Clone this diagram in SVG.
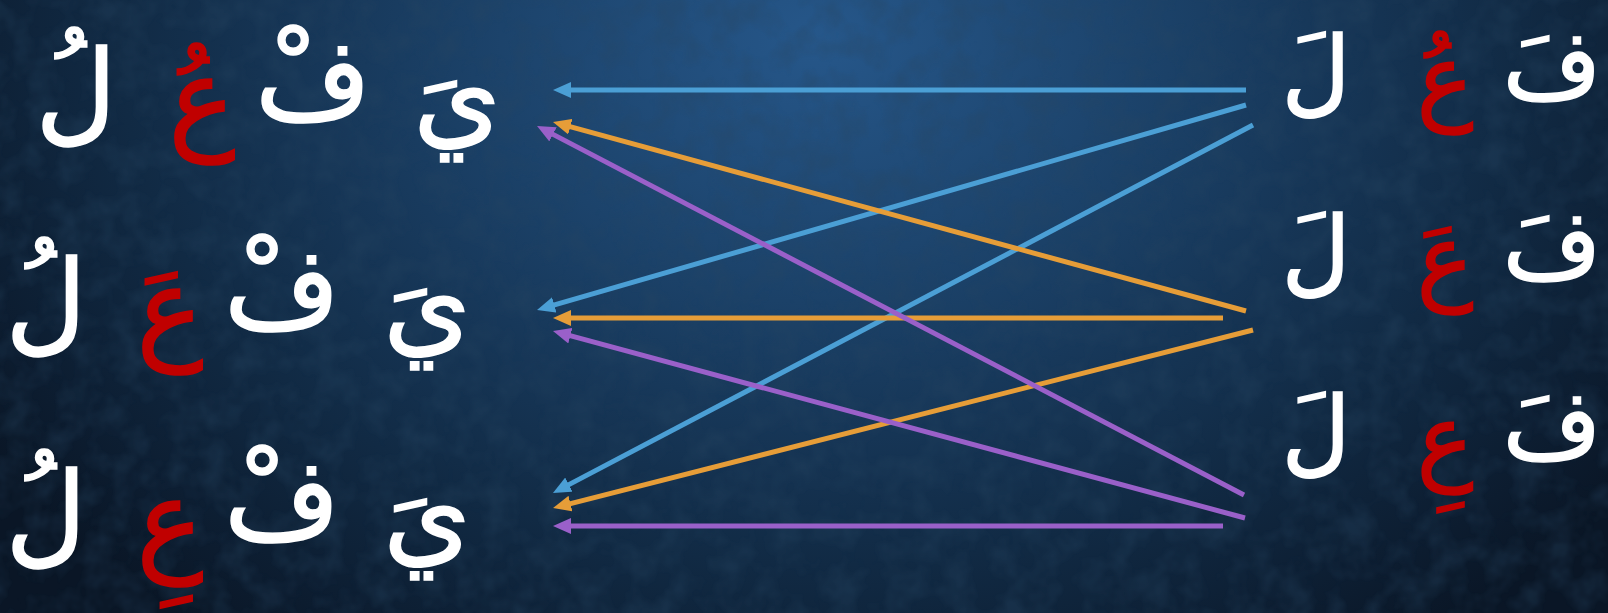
<svg xmlns="http://www.w3.org/2000/svg" width="1608" height="613" viewBox="0 0 1608 613">
<defs>
<radialGradient id="bg" cx="820" cy="40" r="1000" gradientUnits="userSpaceOnUse" gradientTransform="translate(820 40) scale(1 0.75) translate(-820 -40)">
<stop offset="0" stop-color="#26578a"/>
<stop offset="0.35" stop-color="#1b4168"/>
<stop offset="0.7" stop-color="#112a44"/>
<stop offset="1" stop-color="#0a1626"/>
</radialGradient>
<filter id="tex" x="0" y="0" width="100%" height="100%">
<feTurbulence type="fractalNoise" baseFrequency="0.035" numOctaves="3" seed="7" result="n"/>
<feColorMatrix in="n" type="matrix" values="0 0 0 0 0.02  0 0 0 0 0.06  0 0 0 0 0.12  0 0 0 -2.2 1.35" result="m"/>
<feComposite in="m" in2="SourceGraphic" operator="in"/>
</filter>
<marker id="ab" viewBox="0 0 18 16" refX="7" refY="8" markerWidth="18" markerHeight="16" markerUnits="userSpaceOnUse" orient="auto"><path d="M0,0 L18,8 L0,16 Z" fill="#4b9fd5"/></marker>
<marker id="ao" viewBox="0 0 18 16" refX="7" refY="8" markerWidth="18" markerHeight="16" markerUnits="userSpaceOnUse" orient="auto"><path d="M0,0 L18,8 L0,16 Z" fill="#e69d38"/></marker>
<marker id="ap" viewBox="0 0 18 16" refX="7" refY="8" markerWidth="18" markerHeight="16" markerUnits="userSpaceOnUse" orient="auto"><path d="M0,0 L18,8 L0,16 Z" fill="#9a60c9"/></marker>
</defs>
<style>
.ar{font-family:"DejaVu Sans","Noto Sans",sans-serif;font-size:112px;text-anchor:middle;fill:#ffffff;stroke:#ffffff;stroke-width:1.5}
.rt{font-size:95px}
.red{fill:#c00000;stroke:#c00000}
.c{fill:none;stroke-width:5}
.b{stroke:#4b9fd5}
.o{stroke:#e69d38}
.p{stroke:#9a60c9}
</style>
<rect width="1608" height="613" fill="url(#bg)"/>
<rect width="1608" height="613" fill="#000" opacity="0.35" filter="url(#tex)"/>

<g id="left-row1">
<text class="ar" x="457" y="135">يَ</text>
<text class="ar" x="313" y="118">فْ</text>
<text class="ar red" x="202" y="138">عُ</text>
<text class="ar" x="76" y="130">لُ</text>
</g>
<g id="left-row2">
<text class="ar" x="427" y="343">يَ</text>
<text class="ar" x="282" y="327">فْ</text>
<text class="ar red" x="170" y="348">عَ</text>
<text class="ar" x="46" y="340">لُ</text>
</g>
<g id="left-row3">
<text class="ar" x="427" y="553">يَ</text>
<text class="ar" x="282" y="538">فْ</text>
<text class="ar red" x="170" y="560">عِ</text>
<text class="ar" x="46" y="552">لُ</text>
</g>
<g id="right-row1">
<text class="ar rt" x="1316" y="104">لَ</text>
<text class="ar rt red" x="1445" y="112">عُ</text>
<text class="ar rt" x="1552" y="98">فَ</text>
</g>
<g id="right-row2">
<text class="ar rt" x="1316" y="284">لَ</text>
<text class="ar rt red" x="1445" y="292">عَ</text>
<text class="ar rt" x="1552" y="278">فَ</text>
</g>
<g id="right-row3">
<text class="ar rt" x="1316" y="464">لَ</text>
<text class="ar rt red" x="1445" y="472">عِ</text>
<text class="ar rt" x="1552" y="458">فَ</text>
</g>

<g id="connectors">
<line class="c b" x1="1246" y1="90" x2="564" y2="90" marker-end="url(#ab)"/>
<line class="c b" x1="1246" y1="105" x2="547.6" y2="306.9" marker-end="url(#ab)"/>
<line class="c b" x1="1253" y1="125" x2="562.7" y2="487.9" marker-end="url(#ab)"/>
<line class="c o" x1="1246" y1="311" x2="563.6" y2="124.9" marker-end="url(#ao)"/>
<line class="c o" x1="1223" y1="318" x2="564" y2="318" marker-end="url(#ao)"/>
<line class="c o" x1="1253" y1="330" x2="563.7" y2="505.3" marker-end="url(#ao)"/>
<line class="c p" x1="1244" y1="495" x2="546.8" y2="131.1" marker-end="url(#ap)"/>
<line class="c p" x1="1245" y1="518" x2="563.6" y2="333.9" marker-end="url(#ap)"/>
<line class="c p" x1="1223" y1="526" x2="564" y2="526" marker-end="url(#ap)"/>
</g>
</svg>
